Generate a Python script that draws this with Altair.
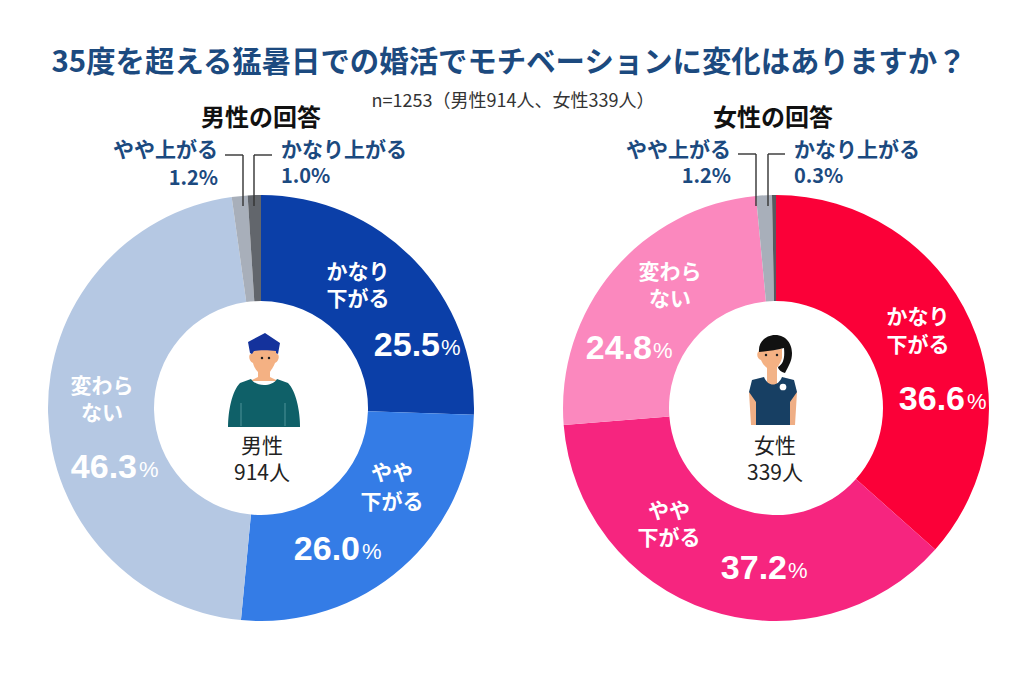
import altair as alt
import pandas as pd

FONT = "Noto Sans CJK JP"
NUM_FONT = "Liberation Sans"
NAVY = "#1C4A7F"
categories = ["かなり下がる", "やや下がる", "変わらない", "やや上がる", "かなり上がる"]
male_values = [25.5, 26.0, 46.3, 1.2, 1.0]
female_values = [36.6, 37.2, 24.8, 1.2, 0.3]
male_colors = ["#0B3FA8", "#347CE6", "#B5C8E3", "#A8AFBA", "#62666C"]
female_colors = ["#FB0038", "#F6257F", "#FB88BE", "#A8AFBA", "#575A60"]
empty = alt.Data(values=[{}])
OX, OY = 8, 8


def pie(values, colors, cx, cy):
    df = pd.DataFrame({"cat": categories, "v": values, "c": colors, "i": range(5)})
    return alt.Chart(df).mark_arc(outerRadius=213, innerRadius=107).encode(
        theta=alt.Theta("v:Q", stack=True),
        color=alt.Color("c:N", scale=None),
        order=alt.Order("i:Q"),
        x=alt.value(cx - OX),
        y=alt.value(cy - OY),
        tooltip=["cat:N", "v:Q"],
    )


def txt(s, x, y, size=21, color="white", weight="bold", align="center", font=FONT):
    return alt.Chart(empty).mark_text(
        text=s, fontSize=size, color=color, fontWeight=weight, align=align,
        baseline="middle", font=font,
    ).encode(x=alt.value(x - OX), y=alt.value(y - OY))


def rule(x1, y1, x2, y2, width=1.4, color="#333333"):
    return alt.Chart(empty).mark_rule(color=color, strokeWidth=width).encode(
        x=alt.value(x1 - OX), x2=alt.value(x2 - OX), y=alt.value(y1 - OY), y2=alt.value(y2 - OY)
    )


def shape(path, x, y, color):
    return alt.Chart(empty).mark_point(
        shape=path, size=4, filled=True, color=color, opacity=1, strokeWidth=0
    ).encode(x=alt.value(x - OX), y=alt.value(y - OY))


def dot(x, y, size, color):
    return alt.Chart(empty).mark_point(filled=True, color=color, size=size, opacity=1, strokeWidth=0).encode(
        x=alt.value(x - OX), y=alt.value(y - OY)
    )


def pct(num, pctx, y, numright):
    return [
        txt(num, numright, y, 34, align="right", font=NUM_FONT),
        txt("%", pctx, y + 2, 22, weight="normal", align="left", font=NUM_FONT),
    ]


BODY_M = "M-36 24 C-36 8 -32 -12 -24 -20 L-13 -24 C-8 -16 8 -16 13 -24 L24 -20 C32 -12 36 8 36 24 Z"
FACE_M = "M-12 -12 L12 -12 L13 -6 C16 -6 15 2 11 3 C9 8 7 10 6 12 L6 17 L14 21 L-14 21 L-6 17 L-6 12 C-8 10 -10 7 -11 3 C-15 2 -16 -6 -13 -6 Z"
HAIR_M = "M-17 -8 L0 -17 L15 -7 L13 4 L11 3 L11 1 C4 0 -6 0 -11 1 L-13 4 L-15 3 Z"
DRESS = "M-21 -22 L-9 -25 C-5 -15 5 -15 9 -25 L21 -22 L24 -10 L17 0 L17 23 L-17 23 L-17 0 L-24 -10 Z"
ARMS_F = "M-24 -10 L-17 -8 L-17 23 L-22 23 Z M24 -10 L17 -8 L17 23 L22 23 Z"
HAIR_F = "M-16 -1 C-17 -12 -8 -18 0 -18 C12 -18 17 -8 17 0 C17 8 14 12 10 20 C6 19 3 16 3 14 C8 11 10 6 9 -5 C2 -3 -8 -2 -16 -1 Z"
FACE_F = "M-13 -4 L10 -6 L10 3 C8 10 4 15 0 15 C-6 14 -10 8 -11 5 C-15 4 -16 -2 -13 -4 Z"
NECK_F = "M-5 -12 L5 -12 L5 10 L-5 10 Z"

layers = [
    txt("35度を超える猛暑日での婚活でモチベーションに変化はありますか？", 509, 63, 29.4, NAVY),
    txt("n=1253（男性914人、女性339人）", 513, 102, 18, "#333333", "normal"),
    txt("男性の回答", 261, 119, 24, "#111111"),
    txt("女性の回答", 773, 119, 24, "#111111"),
    pie(male_values, male_colors, 261, 408),
    pie(female_values, female_colors, 776, 408),
    # callouts
    rule(225, 155, 243, 155), rule(243, 155, 243, 206),
    rule(254, 155, 272, 155), rule(254, 155, 254, 206),
    rule(738, 154, 756, 154), rule(756, 154, 756, 206),
    rule(768, 154, 785, 154), rule(768, 154, 768, 206),
    txt("やや上がる", 218, 151, 21, NAVY, align="right"),
    txt("1.2%", 218, 179, 20, NAVY, align="right"),
    txt("かなり上がる", 281, 151, 21, NAVY, align="left"),
    txt("1.0%", 281, 177, 20, NAVY, align="left"),
    txt("やや上がる", 731, 151, 21, NAVY, align="right"),
    txt("1.2%", 731, 177, 20, NAVY, align="right"),
    txt("かなり上がる", 794, 151, 21, NAVY, align="left"),
    txt("0.3%", 794, 177, 20, NAVY, align="left"),
    # male slices
    txt("かなり", 358, 273), txt("下がる", 358, 300), *pct("25.5", 441, 346, 440),
    txt("やや", 392, 474), txt("下がる", 392, 503), *pct("26.0", 362, 550, 360),
    txt("変わら", 102, 387), txt("ない", 102, 414), *pct("46.3", 139, 468, 137),
    # female slices
    txt("かなり", 918, 318), txt("下がる", 918, 346), *pct("36.6", 967, 400, 965),
    txt("やや", 669, 512), txt("下がる", 669, 539), *pct("37.2", 788, 569, 787),
    txt("変わら", 670, 273), txt("ない", 670, 300), *pct("24.8", 653, 349, 652),
    # centre text
    txt("男性", 262, 447, 21, "#222222", "normal"),
    txt("914人", 262, 474, 21, "#222222", "normal"),
    txt("女性", 775, 447, 21, "#222222", "normal"),
    txt("339人", 775, 474, 21, "#222222", "normal"),
    # man
    shape(FACE_M, 264, 360, "#F4B183"),
    shape(BODY_M, 264, 403, "#0F6068"),
    rule(241, 403, 241, 426, 1, "#4F9298"), rule(285, 403, 285, 426, 1, "#4F9298"),
    shape(HAIR_M, 265, 350, "#14329C"),
    dot(262, 358, 6, "#222222"), dot(269, 358, 6, "#222222"),
    # woman
    shape(ARMS_F, 773, 402, "#EFAE85"),
    shape(NECK_F, 772, 376, "#F2B388"),
    shape(FACE_F, 772, 355, "#F4B183"),
    shape(DRESS, 773, 402, "#173F63"),
    shape(HAIR_F, 775, 353, "#111111"),
    dot(766, 355, 6, "#222222"), dot(777, 355, 6, "#222222"),
    dot(783, 387, 45, "white"),
]

chart = (
    alt.layer(*layers)
    .resolve_scale(theta="independent")
    .properties(width=1008, height=678, padding=0, autosize="none", background="#FFFFFF")
    .configure_view(stroke=None)
)
chart.save("out.html", embed_options={"renderer": "svg", "actions": False})
